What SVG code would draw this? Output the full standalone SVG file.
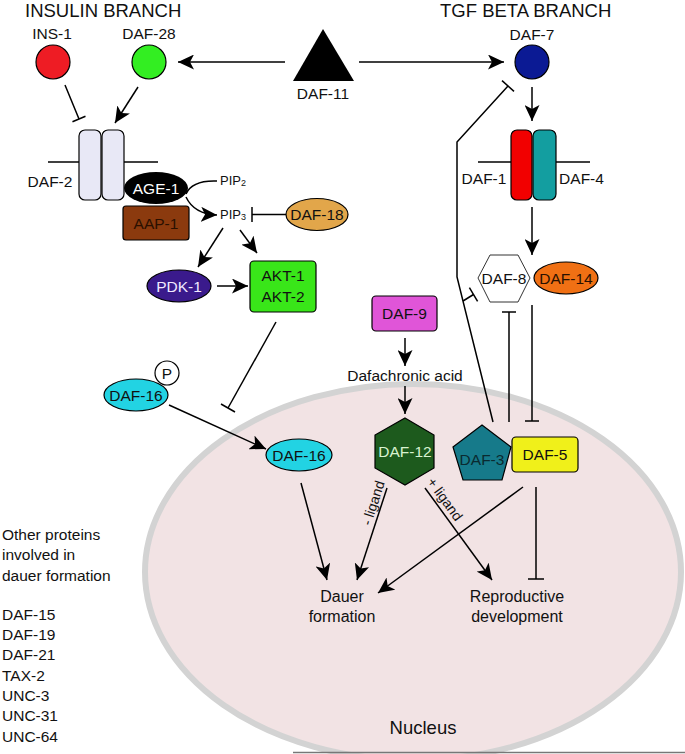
<svg xmlns="http://www.w3.org/2000/svg" width="685" height="754" viewBox="0 0 685 754">
<defs>
<style>
text{font-family:"Liberation Sans",Arial,sans-serif;font-size:15.5px;fill:#111;}
.c{text-anchor:middle;}
.t{font-size:18.5px;}
.sm{font-size:14px;}
.oc{font-size:16px;}
.ln{stroke:#000;stroke-width:1.5;fill:none;}
.ar{stroke:#000;stroke-width:1.5;fill:none;marker-end:url(#ah);}
.nd{stroke:#000;stroke-width:1.2;}
</style>
<marker id="ah" markerUnits="userSpaceOnUse" markerWidth="17" markerHeight="15" refX="16" refY="7.5" orient="auto">
<path d="M0,0 L16,7.5 L0,15 L4,7.5 z" fill="#000"/>
</marker>
</defs>
<rect width="685" height="754" fill="#fff"/>

<g id="nucleus">
<ellipse cx="413" cy="572" rx="268" ry="188" fill="#f2e3e4" stroke="#d3d3d3" stroke-width="6"/>
<line x1="293" y1="752.5" x2="685" y2="752.5" stroke="#777" stroke-width="1.5"/>
<text class="c t" x="423" y="734">Nucleus</text>
</g>

<g id="titles">
<text x="25" y="17" class="t">INSULIN BRANCH</text>
<text x="440" y="17" class="t">TGF BETA BRANCH</text>
</g>

<g id="connectors">
<line class="ar" x1="285" y1="62" x2="178" y2="62"/>
<line class="ar" x1="359" y1="62" x2="504" y2="62"/>
<line class="ln" x1="65" y1="85" x2="79" y2="119"/>
<line class="ln" x1="72.5" y1="121.7" x2="85.5" y2="116.3"/>
<line class="ar" x1="138" y1="87" x2="115" y2="123"/>
<path class="ln" d="M186,194 Q192,180 217,181"/>
<path class="ar" d="M186,197 Q194,214 217,215"/>
<line class="ln" x1="287" y1="214.5" x2="252" y2="214.5"/>
<line class="ln" x1="252" y1="207" x2="252" y2="222"/>
<line class="ar" x1="223" y1="228" x2="198" y2="267"/>
<line class="ar" x1="240" y1="230" x2="257" y2="253"/>
<line class="ar" x1="217" y1="286" x2="248" y2="286"/>
<line class="ln" x1="276" y1="322" x2="228" y2="408"/>
<line class="ln" x1="221" y1="404" x2="235" y2="412"/>
<line class="ar" x1="169" y1="405" x2="266" y2="449"/>
<line class="ar" x1="532" y1="87" x2="532" y2="121"/>
<line class="ar" x1="532" y1="207" x2="532" y2="255"/>
<polyline class="ln" points="493,422 457,277 457,142 508,86"/>
<line class="ln" x1="502" y1="80.6" x2="514" y2="91.4"/>
<line class="ln" x1="463" y1="301" x2="473.5" y2="294.5"/>
<line class="ln" x1="469.4" y1="287.6" x2="477.6" y2="301.4"/>
<line class="ln" x1="509" y1="422" x2="509" y2="312"/>
<line class="ln" x1="502" y1="312" x2="516" y2="312"/>
<line class="ln" x1="532" y1="305" x2="532" y2="421"/>
<line class="ln" x1="525" y1="421" x2="539" y2="421"/>
<line class="ar" x1="405" y1="338" x2="405" y2="366"/>
<line class="ar" x1="405" y1="386" x2="405" y2="414"/>
<line class="ar" x1="301" y1="483" x2="327" y2="580"/>
<line class="ar" x1="387" y1="488" x2="357" y2="580"/>
<line class="ar" x1="425" y1="488" x2="492" y2="580"/>
<line class="ar" x1="523" y1="487" x2="378" y2="593"/>
<line class="ln" x1="536" y1="487" x2="536" y2="579"/>
<line class="ln" x1="528" y1="579" x2="544" y2="579"/>
<text class="c sm" transform="translate(373,503) rotate(-72)" y="5">- ligand</text>
<text class="c sm" transform="translate(445,499) rotate(54)" y="5">+ ligand</text>
</g>

<g id="ins-1">
<text class="c" x="52" y="39">INS-1</text>
<circle class="nd" cx="53" cy="62" r="17" fill="#ee1c24"/>
</g>
<g id="daf-28">
<text class="c" x="149" y="39">DAF-28</text>
<circle class="nd" cx="149" cy="62" r="17" fill="#33ee22"/>
</g>
<g id="daf-11">
<polygon points="323,29 354,81 293,81" fill="#000"/>
<text class="c" x="323" y="99">DAF-11</text>
</g>
<g id="daf-7">
<text class="c" x="532" y="40">DAF-7</text>
<circle class="nd" cx="532" cy="62" r="17" fill="#0b1a94"/>
</g>

<g id="daf-2">
<line class="ln" x1="48" y1="162" x2="79" y2="162"/>
<line class="ln" x1="124" y1="162" x2="158" y2="162"/>
<rect class="nd" x="79" y="130" width="22" height="70" rx="6" fill="#e8e8f6"/>
<rect class="nd" x="102" y="130" width="22" height="70" rx="6" fill="#e8e8f6"/>
<text class="c" x="50" y="187">DAF-2</text>
</g>
<g id="aap-1">
<rect class="nd" x="123" y="206" width="66" height="34" rx="3" fill="#8b3a0e"/>
<text class="c" x="156" y="229" style="fill:#2a1000">AAP-1</text>
</g>
<g id="age-1">
<ellipse cx="156" cy="188" rx="32" ry="16" fill="#000"/>
<text class="c" x="156" y="194" style="fill:#fff">AGE-1</text>
</g>
<g id="pip2">
<text x="220" y="185" style="font-size:13px">PIP<tspan style="font-size:9px" dy="1">2</tspan></text>
</g>
<g id="pip3">
<text x="220" y="219" style="font-size:13px">PIP<tspan style="font-size:9px" dy="1">3</tspan></text>
</g>
<g id="daf-18">
<ellipse class="nd" cx="317" cy="214.5" rx="31" ry="16" fill="#e2a64a"/>
<text class="c" x="317" y="220">DAF-18</text>
</g>
<g id="pdk-1">
<ellipse class="nd" cx="179" cy="286" rx="32" ry="16" fill="#3a1a8c"/>
<text class="c" x="179" y="292" style="fill:#f0e8ff">PDK-1</text>
</g>
<g id="akt">
<rect class="nd" x="250" y="261" width="66" height="51" rx="4" fill="#39e619"/>
<text class="c" x="283" y="281">AKT-1</text>
<text class="c" x="283" y="302">AKT-2</text>
</g>
<g id="daf-16-p">
<ellipse class="nd" cx="136" cy="395" rx="32" ry="16" fill="#22d3e3"/>
<text class="c" x="136" y="401">DAF-16</text>
<circle class="nd" cx="167" cy="373" r="12" fill="#fff"/>
<text class="c" x="167" y="379">P</text>
</g>

<g id="daf-1-4">
<line class="ln" x1="478" y1="162" x2="511" y2="162"/>
<line class="ln" x1="556" y1="162" x2="590" y2="162"/>
<rect class="nd" x="511" y="130" width="21" height="70" rx="6" fill="#f20000"/>
<rect class="nd" x="533" y="130" width="23" height="70" rx="6" fill="#139ea0"/>
<text class="c" x="484" y="184">DAF-1</text>
<text class="c" x="581.5" y="184">DAF-4</text>
</g>
<g id="daf-8">
<polygon points="478,278 490,255 518,255 530,278 518,302 490,302" fill="#fff" stroke="#333" stroke-width="1"/>
<text class="c" x="504" y="284">DAF-8</text>
</g>
<g id="daf-14">
<ellipse class="nd" cx="566" cy="278" rx="32" ry="16" fill="#f07014"/>
<text class="c" x="566" y="284" style="fill:#2a1000">DAF-14</text>
</g>
<g id="daf-9">
<rect class="nd" x="372" y="296" width="65" height="35" rx="4" fill="#e055d8"/>
<text class="c" x="404.5" y="319">DAF-9</text>
</g>
<g id="dafachronic-acid">
<text class="c" x="405" y="381">Dafachronic acid</text>
</g>
<g id="daf-12">
<polygon class="nd" points="405,418 434,435 434,468 405,485 375,468 375,435" fill="#1d5a1d"/>
<text class="c" x="405" y="457" style="fill:#d8f2d0">DAF-12</text>
</g>
<g id="daf-3">
<polygon class="nd" points="482,425 511,447 502,480 463,480 453,447" fill="#167a8a"/>
<text class="c" x="482" y="465" style="fill:#0a2a30">DAF-3</text>
</g>
<g id="daf-5">
<rect class="nd" x="512" y="437" width="66" height="35" rx="4" fill="#f0f01a"/>
<text class="c" x="545" y="460">DAF-5</text>
</g>
<g id="daf-16-nuclear">
<ellipse class="nd" cx="299" cy="455" rx="33" ry="16" fill="#22d3e3"/>
<text class="c" x="299" y="461">DAF-16</text>
</g>
<g id="dauer-formation">
<text class="c oc" x="342" y="602">Dauer</text>
<text class="c oc" x="342" y="622">formation</text>
</g>
<g id="reproductive-development">
<text class="c oc" x="517" y="602">Reproductive</text>
<text class="c oc" x="517" y="622">development</text>
</g>
<g id="other-proteins">
<text x="2" y="540">Other proteins</text>
<text x="2" y="560">involved in</text>
<text x="2" y="581">dauer formation</text>
<text x="2" y="620">DAF-15</text>
<text x="2" y="640">DAF-19</text>
<text x="2" y="660">DAF-21</text>
<text x="2" y="681">TAX-2</text>
<text x="2" y="701">UNC-3</text>
<text x="2" y="721">UNC-31</text>
<text x="2" y="742">UNC-64</text>
</g>
</svg>
